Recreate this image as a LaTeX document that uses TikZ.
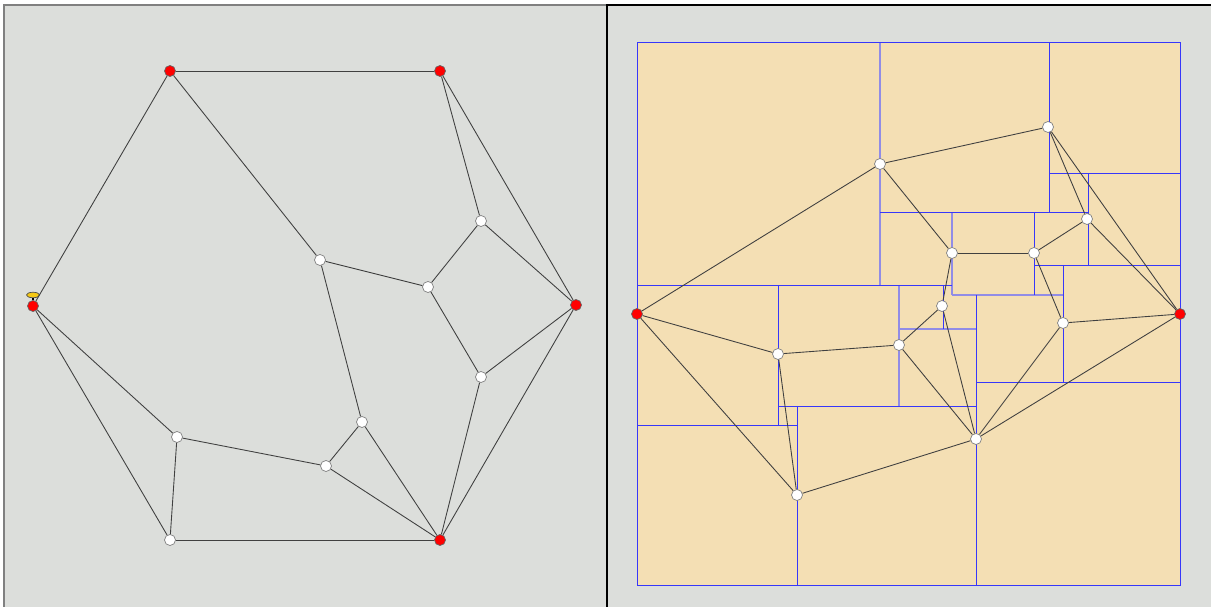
\documentclass[tikz,border=0pt]{standalone}
\usepackage{tikz}
\usetikzlibrary{shapes.geometric}
\definecolor{panel_gray}{RGB}{220,222,219}
\definecolor{tan_fill}{RGB}{244,223,180}
\definecolor{rect_blue}{RGB}{55,55,250}
\definecolor{pale_blue}{RGB}{145,140,230}
\definecolor{pin_yellow}{RGB}{245,200,20}
\tikzset{
red_vertex/.style={circle, draw=black!60, fill=red, inner sep=0pt, minimum size=2.2mm},
white_vertex/.style={circle, draw=black!50, fill=white, inner sep=0pt, minimum size=2.2mm},
edge_line/.style={draw=black!75, line width=0.5pt},
rect_line/.style={draw=rect_blue, line width=0.45pt},
pale_line/.style={draw=pale_blue, line width=0.75pt},
pin_head/.style={ellipse, draw=black!70, fill=pin_yellow, inner sep=0pt, minimum width=2.6mm, minimum height=1.1mm}
}

\begin{document}
\begin{tikzpicture}[x=0.02cm, y=-0.02cm]
    \useasboundingbox (0,0) rectangle (1211,607);
    \fill[white] (0,0) rectangle (1211,607);
    \fill[panel_gray] (4,5) rectangle (1211,607);
    \draw[gray, line width=1pt] (4,607) -- (4,5) -- (607,5);
    \draw[black, line width=1.1pt] (607,607) -- (607,5) -- (1211,5);

    % left panel
    \node[red_vertex] (a_1) at (170,71) {};
    \node[red_vertex] (a_2) at (440,71) {};
    \node[red_vertex] (a_3) at (576,305) {};
    \node[red_vertex] (a_4) at (440,540) {};
    \node[white_vertex] (a_5) at (170,540) {};
    \node[red_vertex] (a_6) at (33,306) {};
    \node[white_vertex] (a_7) at (320,260) {};
    \node[white_vertex] (a_8) at (428,287) {};
    \node[white_vertex] (a_9) at (481,221) {};
    \node[white_vertex] (a_10) at (481,377) {};
    \node[white_vertex] (a_11) at (362,422) {};
    \node[white_vertex] (a_12) at (326,466) {};
    \node[white_vertex] (a_13) at (177,437) {};
    \node[pin_head] (pin) at (33,295) {};
    \draw[black, line width=0.8pt] (pin) -- (a_6);

    \draw[edge_line] (a_1) -- (a_2);
    \draw[edge_line] (a_1) -- (a_6);
    \draw[edge_line] (a_1) -- (a_7);
    \draw[edge_line] (a_2) -- (a_9);
    \draw[edge_line] (a_2) -- (a_3);
    \draw[edge_line] (a_9) -- (a_3);
    \draw[edge_line] (a_9) -- (a_8);
    \draw[edge_line] (a_8) -- (a_7);
    \draw[edge_line] (a_8) -- (a_10);
    \draw[edge_line] (a_10) -- (a_3);
    \draw[edge_line] (a_10) -- (a_4);
    \draw[edge_line] (a_3) -- (a_4);
    \draw[edge_line] (a_7) -- (a_11);
    \draw[edge_line] (a_11) -- (a_12);
    \draw[edge_line] (a_11) -- (a_4);
    \draw[edge_line] (a_12) -- (a_4);
    \draw[edge_line] (a_12) -- (a_13);
    \draw[edge_line] (a_13) -- (a_6);
    \draw[edge_line] (a_13) -- (a_5);
    \draw[edge_line] (a_5) -- (a_6);
    \draw[edge_line] (a_5) -- (a_4);

    % right panel: rectangles
    \fill[tan_fill] (637,42) rectangle (1180,585);
    \draw[pale_line] (880,42) -- (880,285) (952,212) -- (952,295)
        (952,295) -- (1063,295) (899,285) -- (899,406) (899,329) -- (976,329);
    \draw[rect_line] (637,42) rectangle (1180,585);
    \draw[rect_line] (637,285) -- (952,285) (880,212) -- (1088,212)
        (1049,42) -- (1049,212) (1049,173) -- (1180,173)
        (1088,173) -- (1088,265) (1034,265) -- (1180,265)
        (1034,212) -- (1034,295) (1063,265) -- (1063,382)
        (976,382) -- (1180,382) (976,295) -- (976,585)
        (778,285) -- (778,425) (778,406) -- (976,406)
        (943,285) -- (943,329) (797,406) -- (797,585)
        (637,425) -- (797,425);

    \node[red_vertex] (b_1) at (637,314) {};
    \node[red_vertex] (b_2) at (1180,314) {};
    \node[white_vertex] (b_3) at (880,164) {};
    \node[white_vertex] (b_4) at (1048,127) {};
    \node[white_vertex] (b_5) at (1087,219) {};
    \node[white_vertex] (b_6) at (952,253) {};
    \node[white_vertex] (b_7) at (1034,253) {};
    \node[white_vertex] (b_8) at (942,306) {};
    \node[white_vertex] (b_9) at (899,345) {};
    \node[white_vertex] (b_10) at (778,354) {};
    \node[white_vertex] (b_11) at (1063,323) {};
    \node[white_vertex] (b_12) at (976,439) {};
    \node[white_vertex] (b_13) at (797,495) {};

    \draw[edge_line] (b_1) -- (b_3);
    \draw[edge_line] (b_1) -- (b_10);
    \draw[edge_line] (b_1) -- (b_13);
    \draw[edge_line] (b_3) -- (b_4);
    \draw[edge_line] (b_3) -- (b_6);
    \draw[edge_line] (b_4) -- (b_5);
    \draw[edge_line] (b_4) -- (b_2);
    \draw[edge_line] (b_5) -- (b_7);
    \draw[edge_line] (b_5) -- (b_2);
    \draw[edge_line] (b_6) -- (b_7);
    \draw[edge_line] (b_6) -- (b_8);
    \draw[edge_line] (b_7) -- (b_11);
    \draw[edge_line] (b_11) -- (b_2);
    \draw[edge_line] (b_11) -- (b_12);
    \draw[edge_line] (b_12) -- (b_2);
    \draw[edge_line] (b_8) -- (b_9);
    \draw[edge_line] (b_8) -- (b_12);
    \draw[edge_line] (b_9) -- (b_10);
    \draw[edge_line] (b_9) -- (b_12);
    \draw[edge_line] (b_10) -- (b_13);
    \draw[edge_line] (b_13) -- (b_12);
\end{tikzpicture}
\end{document}
